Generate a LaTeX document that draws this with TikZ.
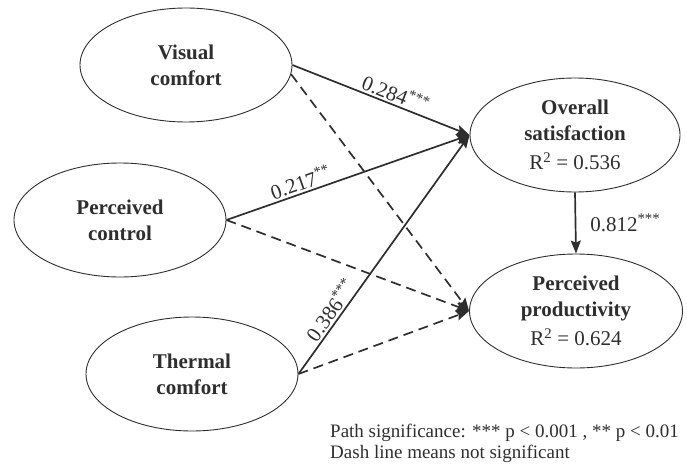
\documentclass[tikz,border=0pt]{standalone}
\usepackage{fontspec}
\setmainfont{Liberation Serif}
\usetikzlibrary{arrows.meta,shapes.geometric}
\definecolor{ink}{HTML}{2E2E2E}
\begin{document}
\begin{tikzpicture}[x=1pt,y=-1pt,
  lat/.style={ellipse, draw=ink, line width=0.9pt, minimum width=212pt, minimum height=114pt, inner sep=0pt, align=center, font=\fontsize{21}{26}\selectfont\bfseries, text=ink},
  pth/.style={draw=ink, line width=1.7pt, -{Stealth[length=13pt,width=10pt,inset=2pt]}},
  ns/.style={pth, dash pattern=on 10pt off 6pt},
  lab/.style={font=\fontsize{21}{25}\selectfont, text=ink, sloped, above, inner sep=2pt}]
\useasboundingbox (0,0) rectangle (687,468);
\node[lat] (vis) at (186,65) {Visual\\comfort};
\node[lat] (ctl) at (120,220) {Perceived\\control};
\node[lat] (thm) at (192,374) {Thermal\\comfort};
\node[lat, minimum width=210pt] (sat) at (575,135) {Overall\\satisfaction\\[3pt]{\mdseries R\textsuperscript{2} = 0.536}};
\node[lat, minimum width=213pt] (prod) at (576,311) {Perceived\\productivity\\[3pt]{\mdseries R\textsuperscript{2} = 0.624}};
\draw[pth] (vis.east) -- node[lab, pos=0.56]{0.284\textsuperscript{***}} (sat.west);
\draw[ns] (vis.-5) -- (prod.west);
\draw[pth] (ctl.east) -- node[lab, pos=0.32]{0.217\textsuperscript{**}} (sat.west);
\draw[ns] (ctl.east) -- (prod.west);
\draw[pth] (thm.east) -- node[lab, pos=0.24]{0.386\textsuperscript{***}} (sat.west);
\draw[ns] (thm.east) -- (prod.west);
\draw[pth] (sat.south) -- node[anchor=west, pos=0.5, xshift=14pt, font=\fontsize{21}{25}\selectfont, text=ink, inner sep=0pt]{0.812\textsuperscript{***}} (prod.north);
\node[anchor=west, font=\fontsize{19}{21}\selectfont, text=ink, align=left, inner sep=0pt] (leg) at (330,443) {Path significance: *** p < 0.001 , ** p < 0.01\\Dash line means not significant};
\end{tikzpicture}
\end{document}
